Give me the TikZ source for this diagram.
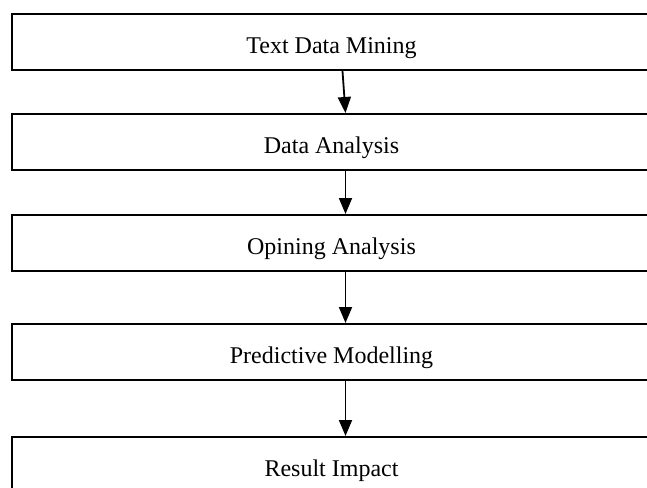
\documentclass[tikz,border=0pt]{standalone}
\usepackage{fontspec}
\setmainfont{Liberation Serif}
\usetikzlibrary{arrows.meta}
\begin{document}
\begin{tikzpicture}[x=1pt,y=-1pt,
  stage/.style={draw=black, line width=2pt, fill=white, minimum width=639pt,
    minimum height=56pt, inner sep=0pt, anchor=north west,
    text height=24pt, text depth=2pt, font=\fontsize{24}{28}\selectfont},
  flow/.style={line width=1.8pt, -{Triangle[length=16pt,width=13pt]}}]
\useasboundingbox (0,0) rectangle (647,487);
\clip (0,0) rectangle (647,487);
\node[stage] (b1) at (11,13)  {Text Data Mining};
\node[stage] (b2) at (11,113) {Data Analysis};
\node[stage] (b3) at (11,214) {Opining Analysis};
\node[stage] (b4) at (11,323) {Predictive Modelling};
\node[stage] (b5) at (11,436) {Result Impact};
\draw[flow] ([xshift=11pt]b1.south) -- ([xshift=14pt]b2.north);
\draw[flow] ([xshift=14pt]b2.south) -- ([xshift=14pt]b3.north);
\draw[flow] ([xshift=14pt]b3.south) -- ([xshift=14pt]b4.north);
\draw[flow] ([xshift=14pt]b4.south) -- ([xshift=14pt]b5.north);
\end{tikzpicture}
\end{document}
